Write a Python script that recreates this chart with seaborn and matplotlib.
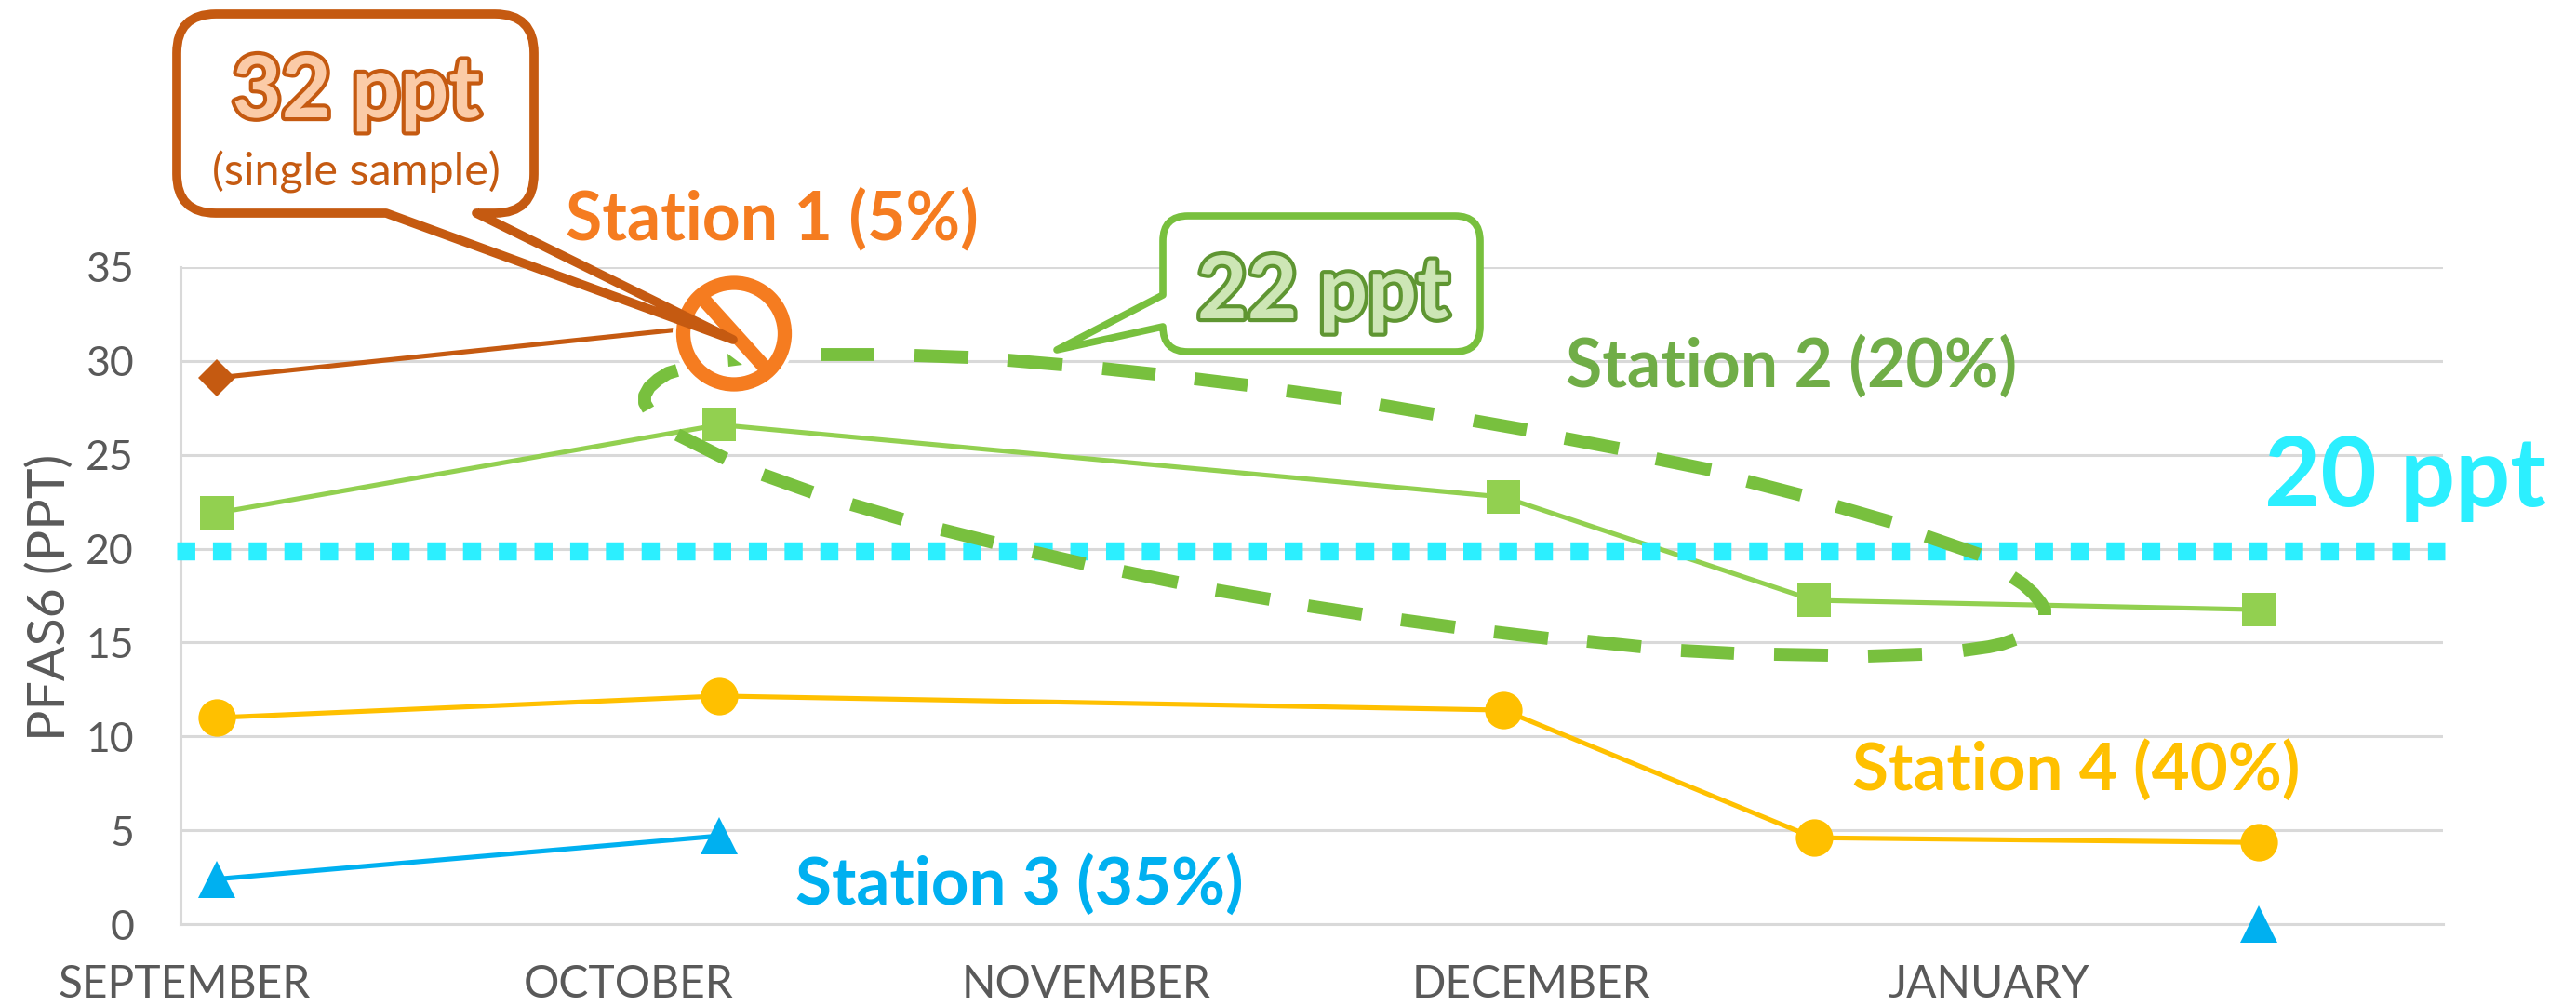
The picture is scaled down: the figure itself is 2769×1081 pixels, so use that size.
import seaborn as sns
import matplotlib
matplotlib.use('Agg')
import matplotlib.pyplot as plt
import matplotlib.patheffects as pe
from matplotlib.collections import LineCollection
from matplotlib.patches import Circle, PathPatch, Polygon
from matplotlib.path import Path
from matplotlib.transforms import Affine2D
import numpy as np

sns.set_theme(style="white")
plt.rcParams['font.family'] = ['Lato', 'DejaVu Sans']

# Sample data (x is measured in months from the SEPTEMBER label)
sample_x = [0.072, 1.186, 2.924, 3.612, 4.598]
station_1 = [29.1, 31.9, np.nan, np.nan, np.nan]
station_2 = [21.9, 26.6, 22.75, 17.25, 16.75]
station_3 = [2.4, 4.7, np.nan, np.nan, 0.0]
station_4 = [11.0, 12.15, 11.4, 4.6, 4.35]
threshold = 19.9

month_ticks = [0, 0.985, 2, 2.985, 4]
month_labels = ['SEPTEMBER', 'OCTOBER', 'NOVEMBER', 'DECEMBER', 'JANUARY']
ppt_ticks = [0, 5, 10, 15, 20, 25, 30, 35]

GRID = '#D9D9D9'
TEXT = '#595959'
DARK_ORANGE = '#C55A11'
ORANGE = '#F57C20'
GREEN = '#92D050'
OUTLINE_GREEN = '#78C03E'
BLUE = '#00B0F0'
YELLOW = '#FFC000'
CYAN = '#2CEFFF'

fig = plt.figure(figsize=(27.69, 10.81), dpi=100)
ax = fig.add_axes([194 / 2769, 1 - 993 / 1081, (2626 - 194) / 2769, (993 - 287) / 1081])

# full-size picture pixels, y going down, for the drawn-on notes
px = Affine2D().scale(1, -1).translate(0, 1081)


def draw_station(values, color, marker, size):
    # a gap in the samples breaks the line
    xs = np.array(sample_x)
    ys = np.array(values)
    runs = np.split(np.arange(len(ys)), np.where(np.isnan(ys))[0])
    for run in runs:
        run = run[~np.isnan(ys[run])]
        if len(run) == 0:
            continue
        sns.lineplot(x=xs[run], y=ys[run], ax=ax, color=color, linewidth=3.7, marker=marker,
                     markersize=size, markeredgewidth=0, estimator=None, sort=False, zorder=3,
                     clip_on=False)


draw_station(station_2, GREEN, 's', 26.6)
draw_station(station_1, DARK_ORANGE, 'D', 20.4)
draw_station(station_4, YELLOW, 'o', 29)
draw_station(station_3, BLUE, '^', 29)

ax.set_xlim(-0.008, 5.006)
ax.set_ylim(0, 35)
ax.set_xticks(month_ticks)
ax.set_xticklabels(month_labels)
ax.set_yticks(ppt_ticks)
ax.tick_params(axis='y', labelsize=32, labelcolor=TEXT, length=0, pad=36)
ax.tick_params(axis='x', labelsize=34.5, labelcolor=TEXT, length=0, pad=31)
ax.grid(axis='y', color=GRID, linewidth=2.2)
ax.set_axisbelow(True)
for side, spine in ax.spines.items():
    spine.set_visible(side in ('left', 'bottom'))
    spine.set_color(GRID)
    spine.set_linewidth(2.2)
ax.set_ylabel('PFAS6 (PPT)', fontsize=40, color=TEXT)
ax.yaxis.set_label_coords((80 - 194) / 2432, (993 - 642) / 706)

# 20 ppt limit
limit = ax.plot([-0.0165, 5.01], [threshold, threshold], color=CYAN, linewidth=14, zorder=4,
                clip_on=False, solid_capstyle='butt')[0]
limit.set_linestyle((0, (1.0, 0.975)))
limit.set_dash_capstyle('butt')

# hand drawn dashed outline around station 2
outline = [
    [(728, 398), (718, 401), (707, 408), (698, 416), (693, 425), (693, 433), (697, 440)],
    [(882, 381), (940, 381)], [(983, 382), (1041, 384)], [(1083, 387), (1142, 392)],
    [(1185, 396), (1242, 402)], [(1284, 407), (1341, 414)], [(1383, 420), (1442, 428)],
    [(1483, 435), (1541, 445)], [(1584, 452), (1641, 462)], [(1682, 471), (1740, 482)],
    [(1780, 493), (1839, 505)], [(1878, 517), (1936, 532)], [(1974, 544), (2033, 561)],
    [(2070, 576), (2128, 596)],
    [(2163, 620), (2175, 628), (2186, 638), (2194, 648), (2198, 655), (2198, 661)],
    [(2166, 687), (2152, 692), (2138, 695), (2124, 697), (2110, 699)],
    [(2066, 703), (2008, 705)], [(1965, 704), (1907, 703)],
    [(1864, 702), (1807, 699)], [(1764, 695), (1706, 689)], [(1664, 686), (1606, 679)],
    [(1564, 674), (1506, 666)], [(1464, 660), (1406, 651)], [(1365, 644), (1307, 634)],
    [(1266, 626), (1207, 614)], [(1166, 606), (1110, 593)], [(1068, 583), (1012, 569)],
    [(970, 558), (915, 542)], [(873, 529), (820, 510)], [(780, 493), (728, 467)],
]
ax.add_collection(LineCollection(outline, colors=OUTLINE_GREEN, linewidths=10, capstyle='butt',
                                 joinstyle='round', transform=px, zorder=5, clip_on=False),
                  autolim=False)

# no-sample sign over the october reading of station 1
ax.add_patch(Circle((789, 358.5), 66, facecolor='white', edgecolor='none', transform=px, zorder=6,
                    clip_on=False))
ax.add_patch(Polygon([(782, 380), (798, 392), (783, 394)], facecolor=OUTLINE_GREEN, edgecolor='none',
                     transform=px, zorder=6, clip_on=False))
ax.add_patch(Circle((789, 358.5), 54.5, facecolor='none', edgecolor=ORANGE, linewidth=11, transform=px,
                    zorder=7, clip_on=False))
ax.plot([752, 826], [317, 399], color=ORANGE, linewidth=11, transform=px, zorder=7, clip_on=False,
        solid_capstyle='butt')


def rounded_path(corners):
    # closed outline from (x, y, radius) corners
    verts, codes = [], []
    n = len(corners)
    for i, (x, y, r) in enumerate(corners):
        here = np.array([x, y], dtype=float)
        before = np.array(corners[i - 1][:2], dtype=float) - here
        after = np.array(corners[(i + 1) % n][:2], dtype=float) - here
        start = here + before / np.hypot(*before) * r
        end = here + after / np.hypot(*after) * r
        verts.append(start)
        codes.append(Path.MOVETO if i == 0 else Path.LINETO)
        if r > 0:
            verts += [here, end]
            codes += [Path.CURVE3, Path.CURVE3]
    verts.append(verts[0])
    codes.append(Path.CLOSEPOLY)
    return Path(verts, codes)


def callout(corners, edge, width):
    ax.add_patch(PathPatch(rounded_path(corners), facecolor='white', edgecolor=edge, linewidth=width,
                           joinstyle='round', transform=px, zorder=8, clip_on=False))


callout([(190, 15, 42), (574, 15, 42), (574, 229, 42), (512, 229, 0), (788, 365, 0), (415, 229, 0),
         (190, 229, 42)], DARK_ORANGE, 7)
callout([(1250, 232, 27), (1591, 232, 27), (1591, 378, 27), (1250, 378, 27), (1250, 351, 0),
         (1136, 376, 0), (1250, 317, 0)], OUTLINE_GREEN, 5.5)


def note(x, y, label, color, size, weight='bold', outline_color=None, ha='left'):
    t = ax.text(x, y, label, color=color, fontsize=size, fontweight=weight, ha=ha, va='baseline',
                transform=px, zorder=9, clip_on=False)
    if outline_color:
        t.set_path_effects([pe.Stroke(linewidth=6, foreground=outline_color), pe.Normal()])
    return t


note(383, 126, '32 ppt', '#FBCBA7', 66, outline_color=DARK_ORANGE, ha='center')
note(383, 200, '(single sample)', DARK_ORANGE, 35, weight='normal', ha='center')
note(1422, 342, '22 ppt', '#CDE6B5', 67, outline_color='#5F9632', ha='center')
note(608, 257, 'Station 1 (5%)', ORANGE, 51.5)
note(1683, 415, 'Station 2 (20%)', '#70AD47', 51.5)
note(855, 972, 'Station 3 (35%)', BLUE, 51)
note(1991, 849, 'Station 4 (40%)', YELLOW, 51)
note(2434, 544, '20 ppt', CYAN, 75)

fig.savefig('out.png', dpi=100, facecolor='white')
